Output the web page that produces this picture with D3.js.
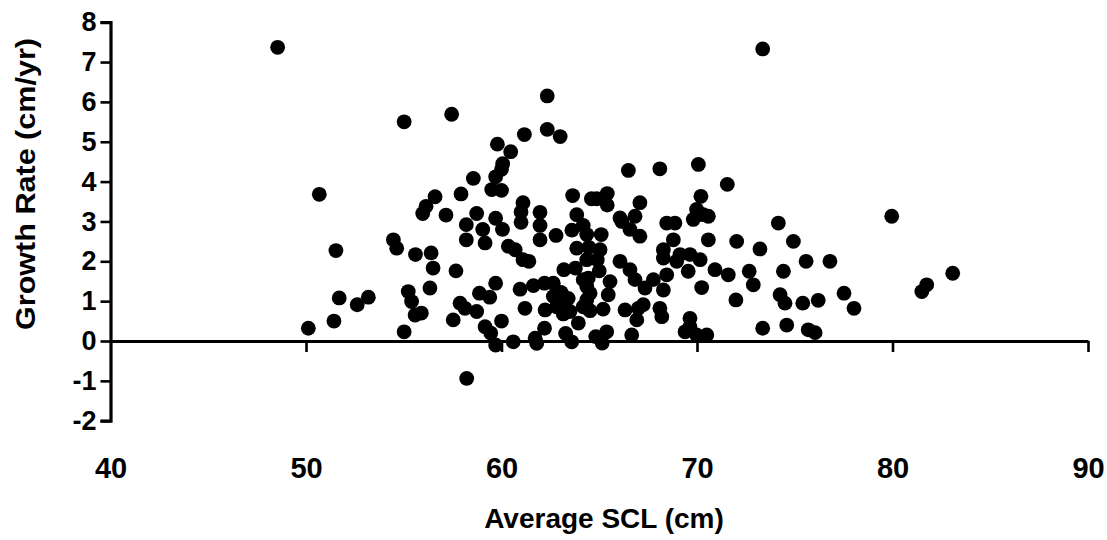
<!DOCTYPE html>
<html>
<head>
<meta charset="utf-8">
<script src="https://cdn.jsdelivr.net/npm/d3@7/dist/d3.min.js"></script>
<style>
    body { margin: 0; background: #fff; }
    svg text { font-family: "Liberation Sans", Arial, sans-serif; font-weight: bold; fill: #000; }
    .axis path, .axis line { stroke: #000; }
</style>
</head>
<body>
<svg width="1107" height="540"></svg>
<script>
//average straight carapace length (cm)
var scl = [
    48.55, 50.68, 51.53, 54.47, 54.64, 51.70, 52.62, 53.19, 51.43, 50.12,
    55.02, 55.02, 57.45, 61.17, 59.79, 60.47, 60.06, 60.00, 59.70, 58.56,
    59.50, 60.00, 57.93, 56.60, 56.14, 55.97, 57.16, 58.73, 59.70, 61.10,
    61.00, 61.00, 60.05, 58.20, 58.20, 59.04, 59.16, 60.35, 60.70, 61.10,
    61.40, 55.60, 56.40, 56.50, 57.67, 55.23, 55.40, 56.34, 55.58, 55.90,
    58.87, 59.40, 59.70, 57.88, 58.13, 57.53, 58.73, 59.16, 59.45, 59.70,
    60.00, 60.60, 60.95, 61.20, 58.22,
    62.34, 62.34, 63.00, 66.49, 68.10, 63.64, 64.60, 64.87, 65.41, 65.41,
    67.08, 61.97, 63.85, 66.06, 66.83, 61.97, 61.97, 62.79, 63.60, 64.18,
    64.36, 65.10, 63.85, 64.47, 65.04, 64.36, 64.90, 66.15, 66.57, 67.08,
    66.06, 66.57, 63.19, 63.78, 64.44, 64.36, 65.00, 65.55, 65.46, 66.83,
    67.34, 67.77, 61.63, 62.20, 62.65, 63.05, 62.65, 63.41, 63.00, 62.23,
    63.16, 62.82, 64.18, 64.53, 65.20, 63.93, 66.32, 67.00, 67.25, 66.92,
    62.20, 61.72, 61.80, 63.28, 63.59, 64.82, 65.38, 65.15, 66.66, 64.18,
    64.53, 64.36, 63.50,
    73.36, 70.07, 71.55, 70.20, 68.45, 68.87, 69.81, 70.32, 70.58, 69.98,
    74.16, 68.79, 70.58, 72.03, 73.22, 68.28, 68.28, 69.13, 69.64, 68.96,
    70.16, 68.45, 69.55, 70.92, 71.60, 72.67, 72.88, 74.42, 68.28, 70.24,
    71.99, 74.25, 74.50, 68.10, 68.20, 69.64, 69.64, 69.39, 70.50, 69.98,
    73.36, 74.59,
    79.96, 74.93, 75.58, 76.80, 77.52, 78.03, 75.41, 76.20, 75.69, 76.04,
    81.50, 81.75, 83.08
];

//growth rate (cm/yr), same order as scl
var growth = [
    7.37, 3.68, 2.27, 2.54, 2.33, 1.08, 0.91, 1.10, 0.50, 0.32,
    0.23, 5.50, 5.69, 5.18, 4.94, 4.75, 4.45, 4.31, 4.12, 4.08,
    3.80, 3.78, 3.69, 3.62, 3.38, 3.20, 3.16, 3.20, 3.08, 3.47,
    3.24, 2.98, 2.80, 2.92, 2.54, 2.80, 2.46, 2.38, 2.29, 2.04,
    2.00, 2.17, 2.21, 1.83, 1.76, 1.24, 0.99, 1.33, 0.65, 0.70,
    1.20, 1.10, 1.45, 0.95, 0.82, 0.53, 0.74, 0.36, 0.20, -0.10,
    0.50, -0.02, 1.30, 0.82, -0.94,
    6.15, 5.31, 5.13, 4.28, 4.32, 3.65, 3.57, 3.57, 3.70, 3.41,
    3.47, 3.23, 3.17, 3.09, 3.13, 2.90, 2.54, 2.65, 2.78, 2.90,
    2.67, 2.67, 2.33, 2.35, 2.29, 2.04, 2.04, 3.00, 2.80, 2.63,
    2.00, 1.79, 1.79, 1.83, 1.58, 1.37, 1.76, 1.49, 1.16, 1.54,
    1.33, 1.54, 1.39, 1.45, 1.45, 1.22, 1.12, 1.07, 0.95, 0.78,
    0.68, 0.86, 0.86, 0.76, 0.80, 0.45, 0.78, 0.82, 0.91, 0.53,
    0.32, 0.07, -0.06, 0.19, -0.02, 0.11, 0.23, -0.05, 0.15, 1.54,
    1.20, 1.03, 0.74,
    7.33, 4.43, 3.93, 3.63, 2.96, 2.96, 3.05, 3.17, 3.13, 3.30,
    2.96, 2.54, 2.54, 2.50, 2.31, 2.29, 2.08, 2.17, 2.17, 2.00,
    2.04, 1.66, 1.75, 1.79, 1.66, 1.75, 1.41, 1.75, 1.28, 1.34,
    1.03, 1.16, 0.95, 0.82, 0.61, 0.57, 0.36, 0.23, 0.15, 0.15,
    0.32, 0.40,
    3.13, 2.50, 2.00, 2.00, 1.20, 0.82, 0.95, 1.02, 0.28, 0.21,
    1.24, 1.41, 1.70
];

//tick values
var xTicks = [40, 50, 60, 70, 80, 90],
    yTicks = [-2, -1, 0, 1, 2, 3, 4, 5, 6, 7, 8];

var xTitle = "Average SCL (cm)",
    yTitle = "Growth Rate (cm/yr)";

var points = scl.map((d, i) => ({ x: d, y: growth[i] }));

//visual sizes (plot edges in pixels)
var svg = d3.select("svg"),
    plot = {
        "left": 110.5,
        "right": 1088,
        "top": 22.2,
        "bottom": 420.7
    },
    dotRadius = 7.4;

//scales
var scaleX = d3.scaleLinear()
    .domain([40, 90])
    .range([plot.left, plot.right]);
var scaleY = d3.scaleLinear()
    .domain([-2, 8])
    .range([plot.bottom, plot.top]);

//plain hyphen for negatives, like the original
var plainFormat = d => String(d);

//y axis, bracket shaped ends
var gAxisY = svg.append("g")
    .attr("class", "axis")
    .attr("transform", "translate(" + plot.left + ",0)")
    .call(d3.axisLeft(scaleY)
        .tickValues(yTicks)
        .tickSizeInner(10)
        .tickSizeOuter(10)
        .tickPadding(4)
        .tickFormat(plainFormat));
gAxisY.select(".domain").attr("stroke-width", 3.2).attr("fill", "none");
gAxisY.selectAll(".tick line").attr("stroke-width", 2.6);
gAxisY.selectAll("text")
    .attr("font-size", 27)
    .attr("font-family", null);

//x axis crossing at zero
var gAxisX = svg.append("g")
    .attr("class", "axis")
    .attr("transform", "translate(0," + scaleY(0) + ")")
    .call(d3.axisBottom(scaleX)
        .tickValues(xTicks)
        .tickSizeInner(11)
        .tickSizeOuter(0)
        .tickFormat(plainFormat));
gAxisX.select(".domain").attr("stroke-width", 3).attr("fill", "none");
gAxisX.selectAll(".tick line").attr("stroke-width", 2.6);
gAxisX.selectAll(".tick").filter(d => d === 40).select("line").remove();
gAxisX.selectAll("text")
    .attr("font-size", 29)
    .attr("font-family", null)
    .attr("y", 116);

//dots
svg.append("g")
    .selectAll("circle")
    .data(points)
    .enter().append("circle")
    .attr("cx", d => scaleX(d.x))
    .attr("cy", d => scaleY(d.y))
    .attr("r", dotRadius)
    .attr("fill", "#000");

//axis titles
svg.append("text")
    .attr("text-anchor", "middle")
    .attr("x", 604)
    .attr("y", 528)
    .attr("font-size", 28)
    .text(xTitle);

svg.append("text")
    .attr("text-anchor", "middle")
    .attr("transform", "translate(35,184) rotate(-90)")
    .attr("font-size", 28)
    .attr("textLength", 292)
    .attr("lengthAdjust", "spacingAndGlyphs")
    .text(yTitle);
</script>
</body>
</html>
